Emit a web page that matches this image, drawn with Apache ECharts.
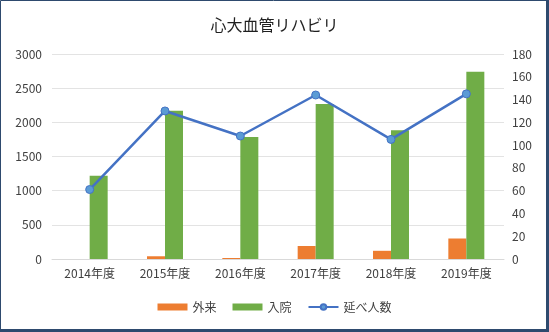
<!DOCTYPE html>
<html>
<head>
<meta charset="utf-8">
<script src="https://cdn.jsdelivr.net/npm/echarts@6/dist/echarts.min.js"></script>
<style>
  html, body { margin: 0; padding: 0; background: #fff; }
  #chart { width: 549px; height: 332px; }
</style>
</head>
<body>
<div id="chart"></div>
<script>
// Fiscal years on the category axis
const years = ['2014年度', '2015年度', '2016年度', '2017年度', '2018年度', '2019年度'];
// Outpatient sessions (left axis)
const outpatient = [0, 40, 15, 190, 120, 300];
// Inpatient sessions (left axis)
const inpatient = [1220, 2170, 1785, 2270, 1885, 2740];
// Total patients (right axis)
const totalPatients = [61, 130, 108, 144, 105, 145];

const font = '"Noto Sans CJK JP", "Noto Sans", sans-serif';
const chart = echarts.init(document.getElementById('chart'), null, { renderer: 'canvas' });

chart.setOption({
  animation: false,
  textStyle: { fontFamily: font },
  title: {
    text: '心大血管リハビリ',
    left: 'center',
    top: 12,
    textStyle: { fontFamily: font, fontSize: 16, fontWeight: 'normal', color: '#1f1f1f' }
  },
  legend: {
    bottom: 14,
    left: 'center',
    itemGap: 16,
    itemWidth: 30,
    itemHeight: 7,
    textStyle: { fontFamily: font, fontSize: 12, color: '#404040' },
    data: [
      { name: '外来', icon: 'rect' },
      { name: '入院', icon: 'rect' },
      { name: '延べ人数' }
    ]
  },
  grid: { left: 52, right: 45, top: 54, bottom: 73, containLabel: false },
  xAxis: {
    type: 'category',
    data: years,
    axisLine: { show: true, lineStyle: { color: '#d9d9d9' } },
    axisTick: { show: false },
    axisLabel: { color: '#404040', fontSize: 12, margin: 8, fontFamily: font }
  },
  yAxis: [
    {
      type: 'value', min: 0, max: 3000, interval: 500,
      axisLine: { show: false }, axisTick: { show: false },
      axisLabel: { color: '#404040', fontSize: 12, margin: 10, fontFamily: font,
                   formatter: v => String(v) },
      splitLine: { lineStyle: { color: '#e3e3e3' } }
    },
    {
      type: 'value', min: 0, max: 180, interval: 20,
      axisLine: { show: false }, axisTick: { show: false },
      axisLabel: { color: '#404040', fontSize: 12, margin: 8, fontFamily: font,
                   formatter: v => String(v) },
      splitLine: { show: false }
    }
  ],
  series: [
    {
      name: '外来', type: 'bar', data: outpatient, yAxisIndex: 0,
      barWidth: 18, barGap: '0%',
      itemStyle: { color: '#ED7D31' }
    },
    {
      name: '入院', type: 'bar', data: inpatient, yAxisIndex: 0,
      barWidth: 18, barGap: '0%',
      itemStyle: { color: '#70AD47' }
    },
    {
      name: '延べ人数', type: 'line', data: totalPatients, yAxisIndex: 1,
      symbol: 'circle', symbolSize: 8,
      lineStyle: { color: '#4472C4', width: 2.5 },
      itemStyle: { color: '#5B9BD5', borderColor: '#4472C4', borderWidth: 1 },
      z: 5
    }
  ],
  graphic: [
    { type: 'rect', shape: { x: 0.5, y: 0.5, width: 546, height: 329 },
      style: { fill: 'none', stroke: '#2e4a6e', lineWidth: 1 }, silent: true },
    { type: 'rect', shape: { x: 546, y: 0, width: 3, height: 332 },
      style: { fill: '#2e4a6e' }, silent: true },
    { type: 'rect', shape: { x: 0, y: 329, width: 549, height: 3 },
      style: { fill: '#2e4a6e' }, silent: true }
  ]
});
</script>
</body>
</html>
